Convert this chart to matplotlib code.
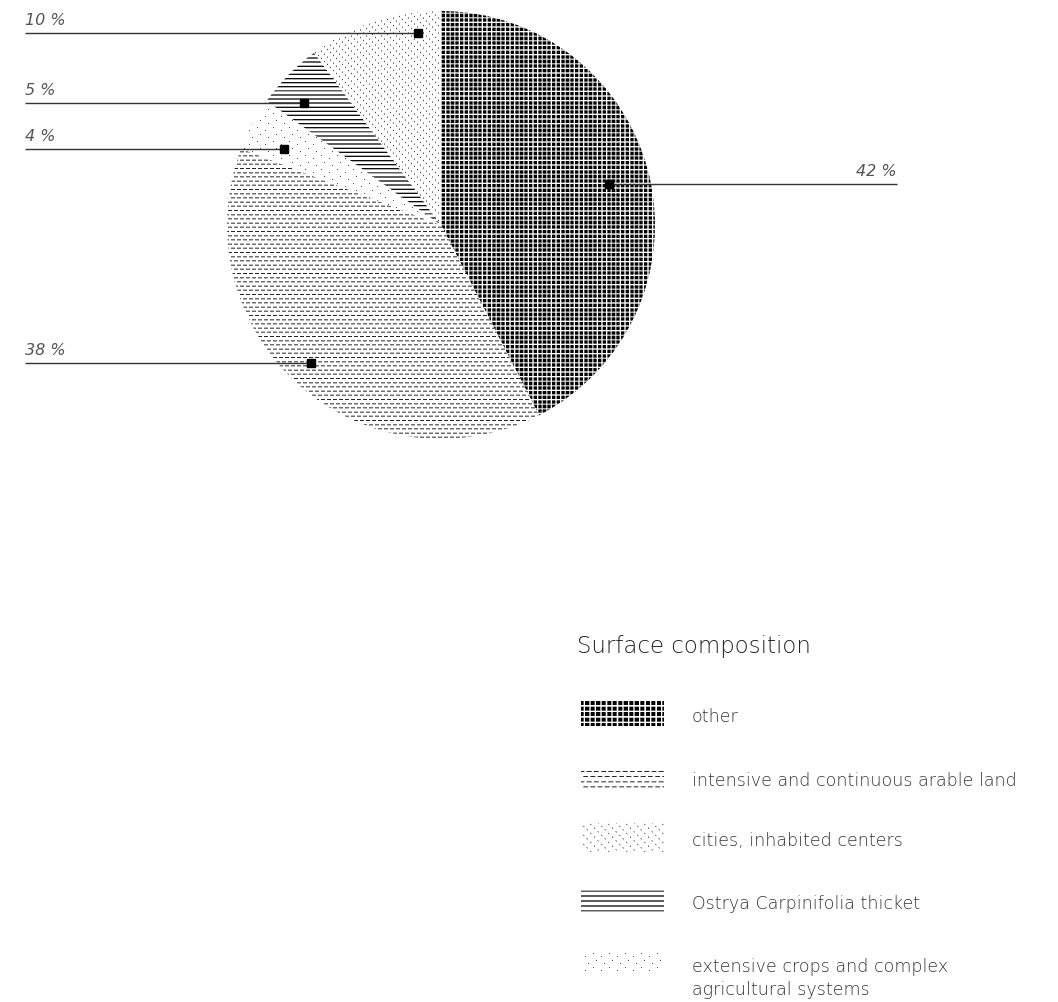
import matplotlib
matplotlib.use('Agg')
import matplotlib.pyplot as plt
import numpy as np

# pie order (clockwise from 12 o'clock)
keys = ['other', 'arable', 'extensive', 'ostrya', 'cities']
shares = [42, 38, 4, 5, 10]
pct_labels = ['42 %', '38 %', '4 %', '5 %', '10 %']

# legend order
legend_keys = ['other', 'arable', 'cities', 'ostrya', 'extensive']
legend_labels = ['other',
                 'intensive and continuous arable land',
                 'cities, inhabited centers',
                 'Ostrya Carpinifolia thicket',
                 'extensive crops and complex\nagricultural systems']
legend_title = 'Surface composition'

W, H = 1058, 1002
plt.rcParams['font.family'] = ['DejaVu Sans']


def texture(kind, x0, y0, w, h, s=1.0, ss=3):
    '''Pattern fill in pixel space, supersampled then averaged. 1 = white.'''
    xs = x0 + (np.arange(w * ss) + 0.5) / ss
    ys = y0 + (np.arange(h * ss) + 0.5) / ss
    X, Y = np.meshgrid(xs, ys)
    ink = 0.0
    if kind == 'other':
        p = 4.6 * s
        mask = ((X % p) < 3.4 * s) & ((Y % p) < 3.4 * s)
    elif kind == 'arable':
        py, px = 4.2 * s, 6.0 * s
        row = np.floor(Y / py)
        mask = ((Y % py) < 1.0) & (((X + row * px / 2) % px) < 4.0 * s)
        ink = 0.15
    elif kind == 'cities':
        mask = (((X - Y) % (7.5 * s)) < 1.0) & ((X % (3 * s)) < 1.0)
        ink = 0.1
    elif kind == 'ostrya':
        mask = (Y % (4.1 * s)) < 1.3
        ink = 0.05
    else:  # extensive: sparse dots on a small tile
        tx, ty = 16.0, 14.0
        pts = [(1, 1), (9, 4), (4, 8), (12, 11)]
        mask = np.zeros_like(X, dtype=bool)
        for px, py in pts:
            mask |= ((((X - px) % tx) < 1.0) & (((Y - py) % ty) < 1.0))
        ink = 0.3
    a = np.where(mask, ink, 1.0)
    return a.reshape(h, ss, w, ss).mean(axis=(1, 3))


def put_texture(ax, kind, x0, y0, w, h, s=1.0, clip=None):
    img = texture(kind, x0, y0, w, h, s)
    im = ax.imshow(img, cmap='gray', vmin=0, vmax=1, interpolation='nearest',
                   origin='upper', extent=(x0, x0 + w, H - (y0 + h), H - y0),
                   zorder=1)
    if clip is not None:
        im.set_clip_path(clip)
    return im


fig = plt.figure(figsize=(W / 100, H / 100), dpi=100)
ax = fig.add_axes([0, 0, 1, 1])

# pie geometry (pixels, y measured from top)
cx, cy, R = 441, 225, 214
wedges, _ = ax.pie(shares, startangle=90, counterclock=False,
                   center=(cx, H - cy), radius=R,
                   wedgeprops=dict(facecolor='none', edgecolor='none'))

for key, wedge in zip(keys, wedges):
    put_texture(ax, key, cx - R - 4, 0, 2 * R + 8, cy + R + 6, clip=wedge)

# label anchors: (fraction along wedge, fraction of radius)
anchors = [(0.50, 0.81), (0.49, 0.886), (0.67, 0.815), (0.65, 0.857), (0.19, 0.904)]
pct_font = dict(style='italic', fontweight='light', fontsize=11.5,
                color='#555555', va='baseline')
for lab, wedge, (f, rf) in zip(pct_labels, wedges, anchors):
    ang = np.deg2rad(wedge.theta1 + f * (wedge.theta2 - wedge.theta1))
    mx = cx + rf * R * np.cos(ang)
    my = H - cy + rf * R * np.sin(ang)
    if np.cos(ang) > 0:
        ax.plot([mx, 897], [my, my], color='#333333', lw=1.0, zorder=2,
                solid_capstyle='butt')
        ax.text(897, my + 8, lab, ha='right', **pct_font)
    else:
        ax.plot([25, mx], [my, my], color='#333333', lw=1.0, zorder=2,
                solid_capstyle='butt')
        ax.text(25, my + 8, lab, ha='left', **pct_font)
    ax.plot(mx, my, 's', color='black', ms=5.2, zorder=3)

# legend
ax.text(577, H - 653, legend_title, ha='left', va='baseline', fontsize=16.5,
        fontweight='light', color='#222222')
row_y = [714, 778, 838, 901, 963]
sw_h = [25, 22, 29, 27, 20]
line_h = 24
for key, lab, yc, hh in zip(legend_keys, legend_labels, row_y, sw_h):
    put_texture(ax, key, 581, int(yc - hh / 2), 83, hh, s=1.2)
    n_extra = lab.count('\n')
    ax.text(692, H - (yc + 8 + n_extra * line_h), lab, ha='left',
            va='baseline', fontsize=12.6, fontweight='light', color='#333333',
            linespacing=1.37)

ax.set_xlim(0, W)
ax.set_ylim(0, H)
ax.set_aspect('auto')
ax.axis('off')
fig.savefig('out.png', dpi=100, facecolor='white')
